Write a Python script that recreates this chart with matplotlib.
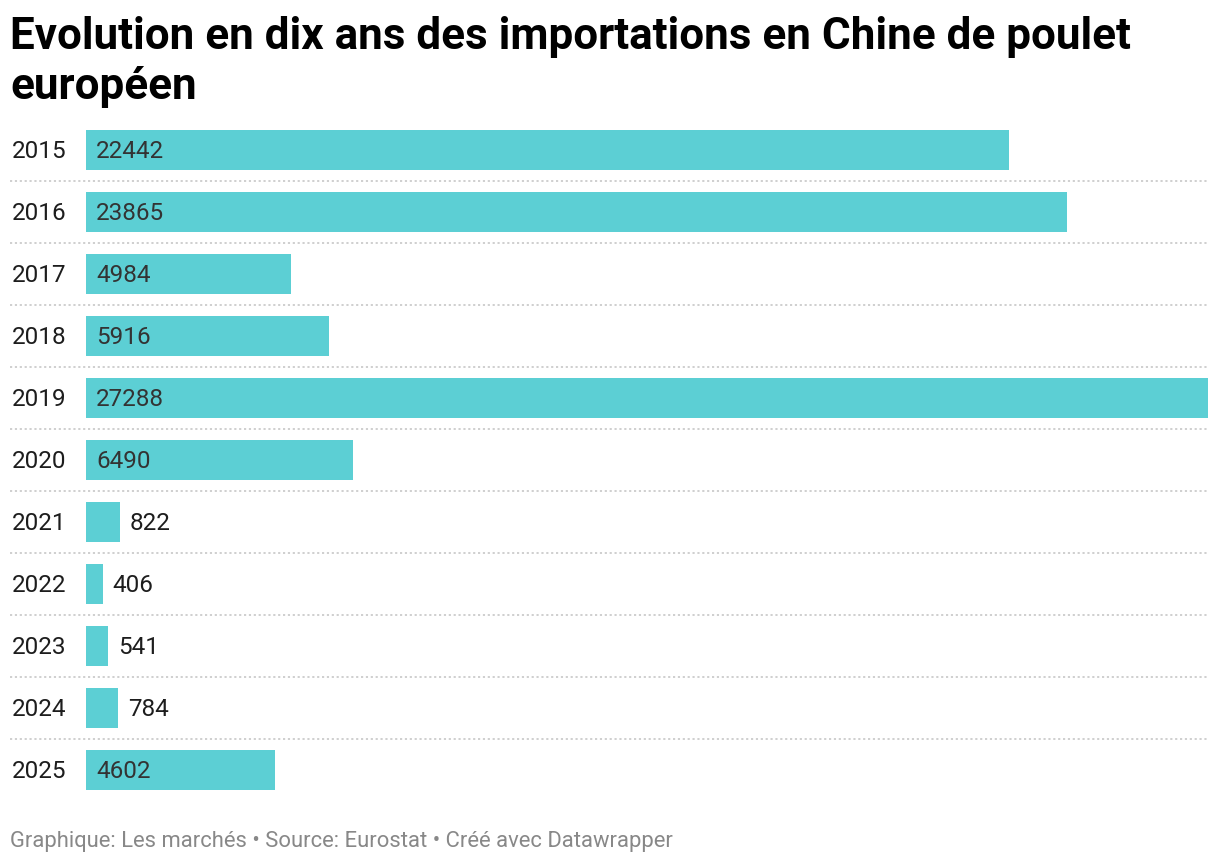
import matplotlib.pyplot as plt

plt.rcParams['font.family'] = ['Roboto', 'DejaVu Sans']

annees = ['2015', '2016', '2017', '2018', '2019', '2020',
          '2021', '2022', '2023', '2024', '2025']
valeurs = [22442, 23865, 4984, 5916, 27288, 6490, 822, 406, 541, 784, 4602]

W, H = 1220, 866
fig = plt.figure(figsize=(W / 100, H / 100), dpi=100)
fig.patch.set_facecolor('white')

# axes : barres de x=86 a x=1208 px, lignes de y=119 a y=801 px
ax = fig.add_axes([86 / W, 1 - 801 / H, (1208 - 86) / W, (801 - 119) / H])
ax.set_xlim(0, max(valeurs))
ax.set_ylim(len(annees) - 0.5, -0.5)
ax.axis('off')

pos = list(range(len(annees)))
ax.barh(pos, valeurs, height=40 / 62, color='#5ccfd4', zorder=2)

px = max(valeurs) / (1208 - 86)  # valeur par pixel
dy = 2 / 62  # petit decalage vertical du texte
for i, (a, v) in enumerate(zip(annees, valeurs)):
    ax.text(-74 / (1208 - 86), i + dy, a, transform=ax.get_yaxis_transform(),
            ha='left', va='center', fontsize=17.5, color='#1d1d1d')
    if v > 3000:
        ax.text(10 * px, i + dy, str(v), ha='left', va='center',
                fontsize=17.5, color='#333333', zorder=3)
    else:
        ax.text(v + 10 * px, i + dy, str(v), ha='left', va='center',
                fontsize=17.5, color='#1d1d1d', zorder=3)

# separateurs pointilles
for i in range(len(annees) - 1):
    ax.plot([-76 / (1208 - 86), 1.0], [i + 0.5, i + 0.5],
            transform=ax.get_yaxis_transform(), clip_on=False,
            color='#cccccc', lw=1.3, linestyle=(0, (1.2, 1.5)), zorder=1)

fig.text(10 / W, 1 - 37 / H, 'Evolution en dix ans des importations en Chine de poulet',
         fontsize=31.7, fontweight='bold', ha='left', va='center', color='#000000')
fig.text(10 / W, 1 - 87 / H, 'européen',
         fontsize=31.7, fontweight='bold', ha='left', va='center', color='#000000')

fig.text(10 / W, 1 - 842 / H,
         'Graphique: Les marchés • Source: Eurostat • Créé avec Datawrapper',
         fontsize=15.8, ha='left', va='center', color='#888888')

fig.savefig('out.png', dpi=100, facecolor='white')
